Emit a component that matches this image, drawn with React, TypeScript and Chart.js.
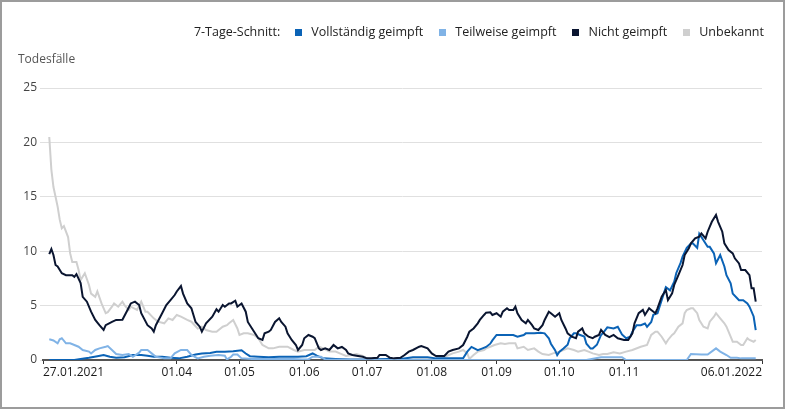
import React, { useEffect, useRef } from "react";
import { Chart, registerables } from "chart.js";

Chart.register(...registerables);

// x = days since 27.01.2021
const tickDays = [0, 64, 94, 125, 155, 186, 217, 247, 278, 344];
const tickLabels = ["27.01.2021", "01.04", "01.05", "01.06", "01.07", "01.08", "01.09", "01.10", "01.11", "06.01.2022"];

const seriesNames = ["Vollständig geimpft", "Teilweise geimpft", "Nicht geimpft", "Unbekannt"];
const seriesColors = ["#0b63b6", "#80b3e6", "#0a1530", "#cfcfcf"];

const fullDays = [3, 15, 18, 22, 26, 29, 32, 35, 39, 43, 47, 50, 53, 57, 61, 65, 69, 73, 76, 80, 83, 87, 91, 95, 97, 99, 103, 108, 113, 118, 122, 126, 129, 131, 134, 140, 147, 155, 165, 171, 177, 184, 188, 195, 201, 203, 205, 208, 210, 212, 214, 215, 217, 219, 222, 225, 227, 230, 231, 235, 238, 240, 242, 243, 245, 246, 247, 249, 251, 252, 254, 255, 257, 259, 260, 262, 263, 265, 267, 268, 270, 273, 275, 277, 279, 281, 282, 284, 286, 288, 289, 291, 292, 294, 295, 297, 298, 300, 302, 303, 305, 306, 308, 310, 311, 313, 314, 316, 318, 319, 321, 322, 324, 326, 327, 329, 330, 332, 333, 335, 337, 338, 340, 341];
const fullValues = [0, 0, 0.1, 0.2, 0.35, 0.45, 0.3, 0.2, 0.25, 0.45, 0.45, 0.4, 0.3, 0.3, 0.2, 0.15, 0.3, 0.5, 0.6, 0.65, 0.75, 0.75, 0.8, 0.9, 0.6, 0.35, 0.3, 0.25, 0.3, 0.3, 0.3, 0.35, 0.6, 0.4, 0.15, 0.1, 0.05, 0.05, 0.1, 0.1, 0.25, 0.25, 0.15, 0.15, 0.15, 0.77, 1.2, 0.9, 1.05, 1.2, 1.5, 1.8, 2.3, 2.3, 2.3, 2.3, 2.15, 2.3, 2.45, 2.45, 2.5, 2.45, 2.0, 1.5, 0.9, 0.45, 0.75, 1.05, 1.4, 2.0, 2.45, 2.45, 2.3, 2.15, 1.5, 1.05, 1.05, 1.4, 2.3, 2.5, 3.0, 2.9, 3.05, 2.35, 2.0, 2.15, 2.6, 3.2, 3.2, 3.35, 3.05, 3.5, 4.15, 4.3, 4.9, 6.1, 6.7, 6.4, 7.2, 8.0, 8.9, 9.5, 10.3, 10.7, 10.7, 10.3, 11.6, 11.0, 10.4, 10.4, 9.8, 8.9, 9.65, 8.6, 7.8, 7.05, 6.1, 5.7, 5.5, 5.5, 5.2, 4.9, 4.0, 2.75];

const partDays = [3, 5, 7, 8, 9, 11, 13, 15, 17, 19, 22, 23, 25, 27, 30, 31, 33, 35, 38, 41, 43, 46, 47, 50, 52, 54, 58, 61, 63, 66, 69, 71, 74, 77, 80, 84, 87, 88, 90, 91, 93, 95, 100, 110, 120, 124, 127, 129, 133, 135, 150, 200, 260, 267, 277, 279, 308, 310, 315, 318, 322, 324, 327, 329, 332, 334, 341];
const partValues = [1.9, 1.8, 1.53, 1.9, 2.0, 1.53, 1.53, 1.38, 1.22, 0.92, 0.77, 0.6, 0.92, 1.07, 1.22, 1.28, 0.92, 0.55, 0.46, 0.55, 0.3, 0.67, 0.92, 0.92, 0.61, 0.3, 0.15, 0.15, 0.61, 0.92, 0.92, 0.46, 0.15, 0.3, 0.4, 0.45, 0.4, 0.05, 0.3, 0.5, 0.5, 0.15, 0.1, 0.1, 0.1, 0.05, 0.05, 0.3, 0.3, 0.05, 0, 0, 0, 0.25, 0.25, 0, 0, 0.55, 0.5, 0.5, 1.07, 0.77, 0.46, 0.2, 0.2, 0.15, 0.15];

const noneDays = [3, 4, 5, 6, 7, 9, 11, 14, 15, 16, 18, 19, 21, 23, 25, 27, 29, 30, 33, 35, 38, 40, 42, 44, 46, 47, 50, 52, 53, 54, 57, 59, 61, 63, 64, 66, 67, 69, 71, 73, 75, 76, 78, 81, 83, 84, 86, 87, 89, 90, 92, 93, 95, 97, 98, 100, 101, 103, 105, 106, 108, 109, 111, 113, 114, 116, 117, 119, 121, 122, 124, 125, 127, 129, 130, 132, 133, 135, 137, 139, 141, 143, 145, 146, 148, 150, 153, 155, 157, 160, 161, 164, 166, 168, 171, 173, 175, 177, 180, 181, 184, 186, 188, 192, 194, 196, 199, 201, 203, 204, 206, 208, 209, 211, 212, 214, 215, 217, 219, 220, 222, 223, 225, 226, 227, 229, 231, 232, 234, 235, 237, 239, 240, 242, 243, 245, 247, 248, 250, 251, 253, 255, 256, 258, 259, 261, 263, 264, 266, 267, 269, 271, 273, 275, 278, 280, 282, 283, 285, 287, 288, 290, 291, 293, 294, 296, 298, 299, 301, 302, 304, 306, 307, 309, 310, 312, 314, 315, 317, 318, 320, 322, 323, 325, 326, 328, 330, 331, 333, 334, 336, 338, 339, 340, 341];
const noneValues = [9.74, 10.2, 9.65, 8.73, 8.6, 7.97, 7.8, 7.8, 7.65, 7.9, 7.07, 5.8, 5.36, 4.44, 3.68, 3.2, 2.76, 3.2, 3.5, 3.68, 3.7, 4.44, 5.2, 5.36, 5.05, 4.3, 3.2, 2.9, 2.6, 3.2, 4.3, 5.05, 5.5, 5.97, 6.3, 6.8, 6.1, 5.2, 4.75, 3.5, 3.06, 2.6, 3.37, 3.98, 4.66, 4.44, 5.05, 4.9, 5.2, 5.2, 5.45, 4.9, 5.2, 4.44, 3.5, 2.9, 2.6, 2.0, 1.84, 2.45, 2.6, 2.76, 3.5, 3.83, 3.5, 3.06, 2.45, 1.84, 1.38, 0.92, 1.38, 2.0, 2.3, 2.14, 2.0, 1.07, 0.92, 1.07, 0.92, 1.38, 1.07, 1.2, 0.92, 0.61, 0.46, 0.4, 0.3, 0.15, 0.15, 0.2, 0.46, 0.46, 0.2, 0.15, 0.2, 0.46, 0.77, 0.92, 1.22, 1.28, 1.07, 0.61, 0.37, 0.37, 0.77, 0.92, 1.07, 1.38, 2.14, 2.6, 2.9, 3.37, 3.68, 4.14, 4.35, 4.38, 4.14, 4.3, 3.98, 4.44, 4.75, 4.6, 4.6, 4.9, 4.3, 3.68, 3.37, 3.68, 3.2, 2.9, 2.76, 3.2, 3.68, 4.44, 4.3, 3.98, 4.3, 3.68, 2.9, 2.45, 2.14, 2.0, 2.6, 2.9, 2.45, 2.14, 2.0, 2.14, 2.3, 2.76, 2.3, 2.1, 2.3, 2.0, 1.84, 1.84, 2.45, 3.37, 4.3, 4.6, 4.14, 4.75, 4.6, 4.3, 4.75, 5.82, 6.43, 5.5, 6.13, 6.9, 7.8, 8.73, 9.65, 10.27, 10.72, 11.18, 11.33, 11.64, 11.18, 11.79, 12.7, 13.33, 12.7, 11.79, 10.72, 10.1, 9.8, 9.35, 8.88, 8.27, 8.27, 7.8, 6.59, 6.59, 5.36];

const unknownDays = [3, 4, 5, 6, 7, 8, 9, 10, 12, 13, 14, 16, 17, 18, 20, 22, 23, 25, 26, 28, 30, 31, 33, 34, 36, 38, 39, 41, 42, 45, 47, 49, 50, 53, 55, 58, 60, 62, 64, 66, 69, 71, 74, 76, 78, 81, 83, 86, 88, 89, 91, 93, 94, 96, 98, 101, 103, 105, 108, 110, 113, 115, 117, 120, 122, 125, 128, 130, 132, 134, 137, 140, 142, 145, 148, 150, 153, 155, 157, 175, 188, 191, 193, 196, 199, 201, 203, 204, 206, 208, 211, 212, 214, 216, 219, 221, 223, 226, 227, 230, 232, 235, 237, 239, 242, 244, 247, 249, 251, 254, 256, 259, 261, 263, 266, 268, 270, 273, 276, 279, 282, 286, 289, 291, 293, 294, 296, 298, 299, 301, 302, 304, 306, 307, 308, 310, 311, 313, 314, 316, 318, 319, 321, 322, 324, 326, 327, 329, 330, 332, 334, 335, 337, 338, 340, 341];
const unknownValues = [20.5, 17.5, 15.9, 15.0, 14.1, 12.9, 12.1, 12.3, 11.3, 9.8, 9.0, 9.0, 8.3, 7.35, 7.97, 6.9, 6.1, 5.8, 6.3, 5.2, 4.3, 4.4, 4.9, 5.2, 4.9, 5.36, 5.05, 4.6, 4.9, 4.6, 5.36, 4.44, 4.44, 3.83, 3.52, 3.37, 3.83, 3.68, 4.14, 3.98, 3.68, 3.52, 2.9, 3.06, 2.76, 2.6, 2.6, 3.06, 3.2, 3.37, 3.68, 2.9, 2.3, 2.45, 2.45, 2.3, 2.0, 1.38, 1.07, 1.07, 1.22, 1.22, 1.22, 0.92, 0.77, 0.92, 0.92, 0.92, 1.22, 1.07, 0.77, 0.77, 0.61, 0.37, 0.46, 0.55, 0.37, 0.15, 0.05, 0.05, 0.05, 0.2, 0.37, 0.61, 0.77, 0.92, 0.61, 0.1, 0.46, 0.77, 0.92, 1.07, 1.22, 1.38, 1.53, 1.47, 1.53, 1.53, 1.07, 1.22, 0.92, 1.07, 0.77, 0.55, 0.46, 0.61, 0.77, 0.92, 1.07, 0.92, 0.77, 0.92, 0.77, 0.61, 0.46, 0.55, 0.55, 0.7, 0.61, 0.77, 0.92, 1.22, 1.38, 2.3, 2.6, 2.6, 2.14, 1.53, 1.84, 2.3, 2.45, 3.06, 3.37, 4.3, 4.6, 4.75, 4.75, 4.3, 3.68, 3.06, 2.9, 3.52, 3.98, 4.3, 3.83, 3.37, 3.06, 2.14, 1.68, 1.68, 1.38, 1.38, 2.0, 1.84, 1.68, 1.84];

const toPoints = (days: number[], values: number[]) => days.map((d, i) => ({ x: d, y: values[i] }));

const FONT = "'Open Sans', sans-serif";

export default function App() {
  const canvasRef = useRef<HTMLCanvasElement | null>(null);

  useEffect(() => {
    document.body.style.margin = "0";
    const canvas = canvasRef.current;
    if (!canvas) return;
    Chart.defaults.font.family = FONT;
    const mk = (idx: number, days: number[], values: number[], order: number) => ({
      label: seriesNames[idx],
      data: toPoints(days, values),
      borderColor: seriesColors[idx],
      backgroundColor: seriesColors[idx],
      borderWidth: 2,
      pointRadius: 0,
      tension: 0,
      fill: false,
      order,
    });
    const chart = new Chart(canvas, {
      type: "line",
      data: {
        datasets: [
          mk(0, fullDays, fullValues, 2),
          mk(1, partDays, partValues, 1),
          mk(2, noneDays, noneValues, 0),
          mk(3, unknownDays, unknownValues, 3),
        ],
      },
      options: {
        animation: false,
        responsive: false,
        maintainAspectRatio: false,
        layout: { padding: { top: 86, right: 21, bottom: 0, left: 0 } },
        plugins: { legend: { display: false }, tooltip: { enabled: false } },
        scales: {
          x: {
            type: "linear",
            min: 0,
            max: 344,
            afterBuildTicks: (scale: any) => {
              scale.ticks = tickDays.map((v) => ({ value: v }));
            },
            afterFit: (scale: any) => {
              scale.height = 47;
            },
            border: { display: true, color: "#555555", width: 2 },
            grid: { drawOnChartArea: false, drawTicks: true, tickLength: 4, color: "#333333", lineWidth: 1 },
            ticks: {
              autoSkip: false,
              maxRotation: 0,
              align: "inner",
              padding: 1,
              color: "#1a1a1a",
              font: { size: 12, family: FONT },
              callback: (_v: any, i: number) => tickLabels[i],
            },
          },
          y: {
            min: 0,
            max: 25,
            afterFit: (scale: any) => {
              scale.width = 41;
            },
            border: { display: false },
            grid: { color: "#e0e0e0", lineWidth: 1, drawTicks: true, tickLength: 3 },
            ticks: { stepSize: 5, padding: 3, color: "#444444", font: { size: 12, family: FONT } },
          },
        },
      },
    } as any);
    return () => chart.destroy();
  }, []);

  const box = (c: string) => (
    <span style={{ display: "inline-block", width: 7, height: 7, background: c, marginRight: 9 }} />
  );

  return (
    <div
      style={{
        position: "relative",
        width: 785,
        height: 409,
        boxSizing: "border-box",
        border: "2px solid #9c9c9c",
        background: "#ffffff",
        fontFamily: FONT,
        overflow: "hidden",
      }}
    >
      <canvas ref={canvasRef} width={781} height={405} style={{ position: "absolute", left: 0, top: 0, width: 781, height: 405 }} />
      <div
        style={{
          position: "absolute",
          top: 21,
          right: 19,
          display: "flex",
          alignItems: "center",
          fontSize: 12.5,
          lineHeight: "18px",
          color: "#222",
          whiteSpace: "nowrap",
        }}
      >
        <span style={{ marginRight: 15 }}>7-Tage-Schnitt:</span>
        {seriesNames.map((n, i) => (
          <span key={n} style={{ display: "flex", alignItems: "center", marginLeft: i === 0 ? 0 : 16 }}>
            {box(seriesColors[i])}
            <span>{n}</span>
          </span>
        ))}
      </div>
      <div style={{ position: "absolute", left: 16, top: 49, fontSize: 12, lineHeight: "16px", color: "#555" }}>Todesfälle</div>
    </div>
  );
}
